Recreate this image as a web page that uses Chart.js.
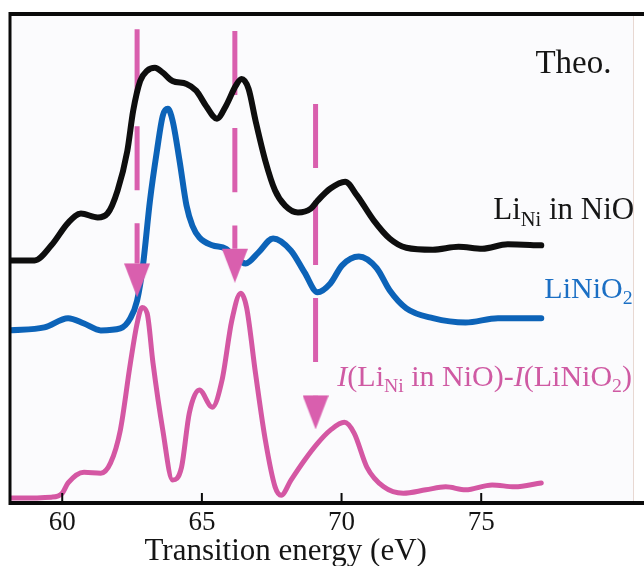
<!DOCTYPE html>
<html>
<head>
<title>Transition energy</title>
<script src="https://cdn.jsdelivr.net/npm/chart.js@4"></script>
<style>
html,body{margin:0;padding:0;background:#fff}
</style>
</head>
<body>
<canvas id="spec" width="644" height="566"></canvas>
<script>
// Li_Ni in NiO (theory)
const liniE = [58.13,59.01,59.61,60.21,60.67,61.27,61.62,61.98,62.33,62.54,62.79,63.04,63.32,63.60,63.95,64.45,64.80,65.15,65.54,65.86,66.21,66.42,66.67,66.92,67.27,67.62,67.98,68.44,68.90,69.14,69.60,70.13,70.55,71.15,71.72,72.32,73.27,74.19,75.04,75.95,77.15];
const liniI = [4.96,4.96,5.27,5.73,5.92,5.84,5.92,6.39,7.20,8.02,8.63,8.84,8.90,8.80,8.63,8.57,8.43,8.12,7.86,8.12,8.53,8.67,8.47,7.82,7.00,6.39,6.08,5.94,6.02,6.18,6.43,6.57,6.29,5.78,5.41,5.22,5.18,5.24,5.20,5.29,5.27];
// LiNiO2
const linio2E = [58.13,59.36,60.21,60.78,61.38,62.08,62.44,62.68,62.89,63.14,63.39,63.60,63.78,63.95,64.20,64.45,64.66,64.91,65.37,65.86,66.21,66.57,67.02,67.55,68.19,68.68,69.14,69.60,70.02,70.62,71.26,71.72,72.32,73.27,74.44,75.60,77.15];
const linio2I = [3.53,3.59,3.78,3.67,3.53,3.57,3.78,4.14,4.86,6.18,7.20,7.92,8.06,7.82,7.00,6.08,5.67,5.43,5.27,5.20,5.00,4.90,5.12,5.41,5.16,4.71,4.31,4.49,4.86,5.04,4.80,4.35,3.98,3.78,3.69,3.78,3.78];
// difference I(Li_Ni in NiO) - I(LiNiO2)
const diffE = [58.13,59.61,60.00,60.21,60.78,61.38,61.73,62.08,62.44,62.68,62.86,63.04,63.25,63.60,63.95,64.27,64.55,64.91,65.37,65.72,66.07,66.39,66.60,66.92,67.27,67.62,67.84,68.19,68.68,69.14,69.60,70.10,70.45,70.91,71.51,72.21,73.02,73.73,74.44,75.39,76.20,77.15];
const diffI = [0.10,0.12,0.20,0.41,0.63,0.61,0.82,1.49,2.86,3.67,4.00,3.88,2.86,1.49,0.47,0.73,1.84,2.31,1.96,2.51,3.73,4.29,4.00,2.65,1.29,0.33,0.16,0.47,0.88,1.22,1.49,1.65,1.43,0.73,0.33,0.20,0.27,0.33,0.27,0.37,0.33,0.41];
// marker arrows
const markerE = [62.68,66.18,69.07];
const markerTop = [9.69,9.65,8.16];
const markerEnd = [4.90,5.20,2.20];
const tickValues = [60,65,70,75];

const black = '#0e0e0e', blue = '#0c63b8', pink = '#d457a3', dash = '#d95fae';
const serif = '"Liberation Serif", "DejaVu Serif", serif';

function pts(xs, ys){ return xs.map((x,i)=>({x:x, y:ys[i]})); }

// arrow head image, triangle sits in the lower half so its top is on the point
const arrow = document.createElement('canvas');
arrow.width = 26; arrow.height = 68;
(function(){
    const a = arrow.getContext('2d');
    a.fillStyle = dash;
    a.beginPath(); a.moveTo(0,34); a.lineTo(26,34); a.lineTo(13,68); a.closePath(); a.fill();
})();

const markerSets = markerE.map((e,i)=>({
    data:[{x:e,y:markerTop[i]},{x:e,y:markerEnd[i]}],
    borderColor:dash, borderWidth:5, borderDash:[64,33], borderCapStyle:'butt',
    pointStyle:arrow, pointRadius:c=>c.dataIndex===1?5:0, pointHoverRadius:0,
    order:2
}));

const notes = [
    {runs:[{t:'Theo.'}], x:76.94, y:8.80, size:33, color:'#151515'},
    {runs:[{t:'Li'},{t:'Ni',sub:true},{t:' in NiO'}], x:75.43, y:5.80, size:31, color:'#151515'},
    {runs:[{t:'LiNiO'},{t:'2',sub:true}], x:77.26, y:4.20, size:30, color:'#1b6fc4'},
    {runs:[{t:'I',it:true},{t:'(Li'},{t:'Ni',sub:true},{t:' in NiO)-'},{t:'I',it:true},{t:'(LiNiO'},{t:'2',sub:true},{t:')'}], x:69.85, y:2.40, size:30, color:'#cf5aa3'}
];

function drawRuns(ctx, runs, x, y, size, color){
    let cx = x;
    ctx.fillStyle = color;
    ctx.textAlign = 'left';
    ctx.textBaseline = 'alphabetic';
    for (const r of runs){
        const s = r.sub ? size*0.66 : size;
        ctx.font = (r.it?'italic ':'') + s + 'px ' + serif;
        ctx.fillText(r.t, cx, y + (r.sub ? size*0.22 : 0));
        cx += ctx.measureText(r.t).width;
    }
}

const frame = {
    id:'frame',
    beforeDatasetsDraw(c){
        const a = c.chartArea, ctx = c.ctx;
        ctx.save();
        ctx.fillStyle = '#fbfbfd';
        ctx.fillRect(a.left, a.top, a.right-a.left, a.bottom-a.top);
        ctx.restore();
    },
    afterDraw(c){
        const a = c.chartArea, ctx = c.ctx, xs = c.scales.x, ys = c.scales.y;
        ctx.save();
        // labels
        notes.forEach(n=>drawRuns(ctx, n.runs, xs.getPixelForValue(n.x), ys.getPixelForValue(n.y), n.size, n.color));
        // box
        ctx.strokeStyle = '#e8d8d2'; ctx.lineWidth = 1;
        ctx.beginPath(); ctx.moveTo(a.right-0.5, a.top); ctx.lineTo(a.right-0.5, a.bottom); ctx.stroke();
        ctx.strokeStyle = '#0a0a0a';
        ctx.lineWidth = 4;
        ctx.beginPath(); ctx.moveTo(a.left-1, a.top); ctx.lineTo(644, a.top); ctx.stroke();
        ctx.beginPath(); ctx.moveTo(a.left-1, a.bottom); ctx.lineTo(644, a.bottom); ctx.stroke();
        ctx.lineWidth = 3;
        ctx.beginPath(); ctx.moveTo(a.left, a.top-2); ctx.lineTo(a.left, a.bottom+2); ctx.stroke();
        // inward ticks
        ctx.lineWidth = 2;
        tickValues.forEach(v=>{
            const px = xs.getPixelForValue(v);
            ctx.beginPath(); ctx.moveTo(px, a.bottom-10); ctx.lineTo(px, a.bottom); ctx.stroke();
        });
        // axis title
        ctx.fillStyle = '#151515';
        ctx.font = '31px ' + serif;
        ctx.textAlign = 'center';
        ctx.textBaseline = 'alphabetic';
        ctx.fillText('Transition energy (eV)', xs.getPixelForValue(68), a.bottom + 57);
        ctx.restore();
    }
};

new Chart(document.getElementById('spec'), {
    type:'line',
    data:{datasets:[
        {label:'Li_Ni in NiO', data:pts(liniE, liniI), borderColor:black, borderWidth:6, order:1},
        ...markerSets,
        {label:'diff', data:pts(diffE, diffI), borderColor:pink, borderWidth:5, order:3},
        {label:'LiNiO2', data:pts(linio2E, linio2I), borderColor:blue, borderWidth:6, order:4}
    ]},
    options:{
        responsive:false,
        animation:false,
        parsing:false,
        layout:{padding:{left:8, right:3, top:14, bottom:0}},
        elements:{line:{cubicInterpolationMode:'monotone', borderCapStyle:'round', borderJoinStyle:'round'}, point:{radius:0}},
        plugins:{legend:{display:false}, tooltip:{enabled:false}},
        scales:{
            x:{type:'linear', min:58.13, max:80.47,
               grid:{display:false, drawTicks:false}, border:{display:false},
               afterBuildTicks:s=>{ s.ticks = tickValues.map(v=>({value:v})); },
               afterFit:s=>{ s.height = 63; },
               ticks:{font:{family:serif, size:27}, color:'#151515', padding:4, maxRotation:0}},
            y:{type:'linear', min:0, max:10, display:false}
        }
    },
    plugins:[frame]
});
</script>
</body>
</html>
